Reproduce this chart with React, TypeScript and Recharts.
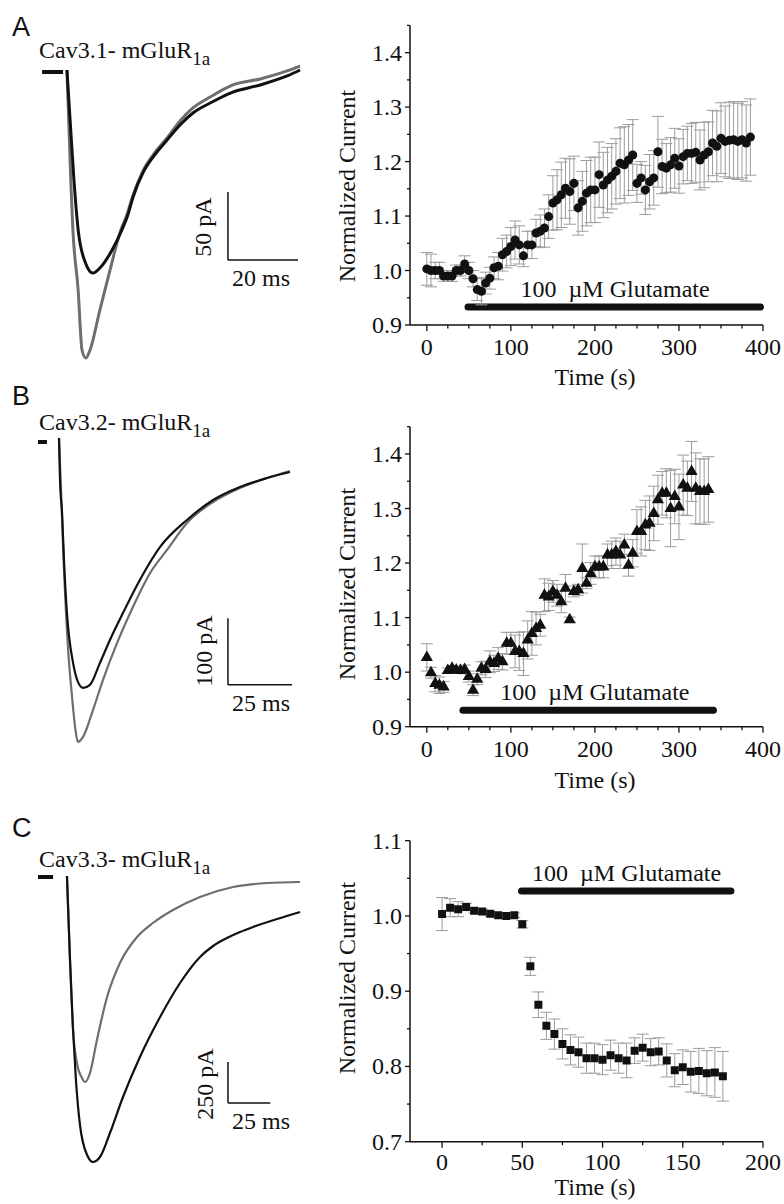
import React from 'react';
import {
  LineChart, Line, XAxis, YAxis, ReferenceLine,
  ScatterChart, Scatter, ErrorBar, ZAxis,
} from 'recharts';

const SERIF = '"Liberation Serif", "Times New Roman", serif';
const SANS = '"Liberation Sans", Arial, sans-serif';
const INK = '#111111';
const GREY = '#6e6e6e';
const ERR = '#9c9c9c';
const FS = 24;

// ---------- Current traces (time in ms, current in pA) ----------
const traceABlackT = [7.7, 8.6, 9.7, 10.9, 12.9, 15.1, 17.1, 20.6, 23.4, 24.9, 26.6, 29.4, 32.3, 36.3, 40.0, 43.7, 48.6, 55.1, 62.9, 70.6, 74.3];
const traceABlackI = [0, -36.8, -80.9, -117.6, -141.2, -149.3, -145.6, -132.4, -117.6, -108.1, -93.4, -75.7, -64.0, -51.5, -40.4, -31.6, -24.3, -16.2, -11.0, -4.4, 0];
const traceAGreyT = [7.7, 8.3, 8.9, 9.4, 10.9, 12.0, 13.1, 14.3, 17.1, 20.0, 22.9, 24.9, 26.6, 29.4, 32.3, 36.3, 40.0, 43.7, 48.6, 55.1, 62.9, 70.6, 74.3];
const traceAGreyI = [0, -44.1, -88.2, -117.6, -161.8, -205.9, -211.8, -205.9, -176.5, -147.1, -119.1, -105.9, -91.9, -74.3, -62.5, -50.0, -37.5, -27.9, -19.9, -11.0, -6.6, -0.7, 2.9];
const baseAT = [0.6, 6.6];
const baseAI = [-1.5, -1.5];

const traceBBlackT = [8.2, 8.6, 9.4, 10.2, 11.3, 13.7, 15.6, 17.6, 20.3, 24.2, 28.1, 33.2, 39.8, 47.7, 58.2, 68.4, 78.9, 89.5, 98.4];
const traceBBlackI = [3.0, -60.0, -109.4, -184.4, -259.4, -334.3, -362.8, -371.8, -367.3, -334.3, -299.9, -259.4, -209.9, -160.4, -119.9, -90.0, -70.5, -57.0, -48.0];
const traceBGreyT = [8.2, 9.0, 9.8, 11.7, 13.3, 14.8, 15.6, 17.6, 21.5, 25.4, 30.9, 37.1, 43.8, 50.4, 58.2, 68.4, 78.9, 89.5, 98.4];
const traceBGreyI = [3.0, -75.0, -160.4, -310.3, -385.3, -439.3, -452.8, -445.3, -404.8, -359.8, -304.3, -250.4, -199.4, -164.9, -124.4, -93.0, -72.0, -57.0, -46.5];
const baseBT = [0, 3.5];
const baseBI = [-3, -3];

const traceCGreyT = [17.1, 18.9, 20.7, 23.0, 26.0, 27.8, 30.7, 34.8, 40.8, 48.4, 58.5, 67.9, 79.7, 95.7, 115.2, 135.3, 154.8];
const traceCGreyI = [0, -512.2, -939.0, -1140.2, -1231.7, -1256.1, -1201.2, -1000.0, -737.8, -530.5, -372.0, -286.6, -207.3, -128.0, -67.1, -42.7, -36.6];
const traceCBlackT = [17.1, 18.9, 20.7, 22.4, 24.8, 29.0, 32.5, 36.6, 42.5, 50.2, 60.2, 72.1, 83.9, 95.7, 103.4, 111.6, 119.3, 127.0, 141.2, 154.8];
const traceCBlackI = [0, -512.2, -939.0, -1243.9, -1518.3, -1701.2, -1743.9, -1713.4, -1567.1, -1347.6, -1103.7, -859.8, -652.4, -493.9, -426.8, -378.0, -341.5, -311.0, -262.2, -219.5];
const baseCT = [0, 8.9];
const baseCI = [-6, -6];

// ---------- Normalized current time courses ----------
const timeA = [0, 5, 10, 15, 20, 25, 30, 35, 40, 45, 50, 55, 60, 65, 70, 75, 80, 85, 90, 95, 100, 105, 110, 115, 120, 125, 130, 135, 140, 145, 150, 155, 160, 165, 170, 175, 180, 185, 190, 195, 200, 205, 210, 215, 220, 225, 230, 235, 240, 245, 250, 255, 260, 265, 270, 275, 280, 285, 290, 295, 300, 305, 310, 315, 320, 325, 330, 335, 340, 345, 350, 355, 360, 365, 370, 375, 380, 385];
const currentA = [1.003, 1.0, 1.0, 1.0, 0.99, 0.99, 0.99, 1.0, 1.0, 1.012, 1.0, 0.985, 0.965, 0.962, 0.977, 0.986, 1.005, 1.008, 1.029, 1.035, 1.044, 1.056, 1.047, 1.027, 1.047, 1.047, 1.069, 1.072, 1.078, 1.099, 1.124, 1.13, 1.139, 1.151, 1.145, 1.16, 1.115, 1.127, 1.142, 1.148, 1.148, 1.176, 1.157, 1.166, 1.173, 1.182, 1.197, 1.194, 1.203, 1.212, 1.16, 1.17, 1.148, 1.163, 1.17, 1.218, 1.191, 1.188, 1.194, 1.206, 1.192, 1.209, 1.215, 1.215, 1.217, 1.203, 1.212, 1.218, 1.234, 1.228, 1.243, 1.237, 1.239, 1.24, 1.237, 1.24, 1.234, 1.245];
const semA = [0.03, 0.03, 0.015, 0.015, 0.01, 0.01, 0.01, 0.01, 0.01, 0.015, 0.015, 0.015, 0.02, 0.025, 0.02, 0.02, 0.02, 0.025, 0.03, 0.03, 0.035, 0.035, 0.035, 0.02, 0.025, 0.025, 0.025, 0.03, 0.035, 0.04, 0.05, 0.055, 0.06, 0.055, 0.06, 0.05, 0.05, 0.055, 0.06, 0.06, 0.06, 0.06, 0.06, 0.06, 0.06, 0.06, 0.065, 0.07, 0.065, 0.065, 0.035, 0.03, 0.045, 0.05, 0.05, 0.065, 0.05, 0.045, 0.05, 0.055, 0.05, 0.05, 0.05, 0.055, 0.055, 0.055, 0.06, 0.055, 0.06, 0.065, 0.065, 0.065, 0.07, 0.07, 0.07, 0.07, 0.07, 0.07];

const timeB = [0, 5, 10, 15, 20, 25, 30, 35, 40, 45, 50, 55, 60, 65, 70, 75, 80, 85, 90, 95, 100, 105, 110, 115, 120, 125, 130, 135, 140, 145, 150, 155, 160, 165, 170, 175, 180, 185, 190, 195, 200, 205, 210, 215, 220, 225, 230, 235, 240, 245, 250, 255, 260, 265, 270, 275, 280, 285, 290, 295, 300, 305, 310, 315, 320, 325, 330, 335];
const currentB = [1.027, 0.999, 0.979, 0.976, 0.973, 1.003, 1.007, 1.004, 1.003, 1.005, 0.992, 0.967, 0.987, 1.007, 1.005, 1.019, 1.016, 1.025, 1.019, 1.053, 1.053, 1.038, 1.038, 1.034, 1.059, 1.071, 1.08, 1.086, 1.141, 1.138, 1.148, 1.141, 1.129, 1.154, 1.096, 1.148, 1.151, 1.19, 1.163, 1.181, 1.193, 1.193, 1.193, 1.215, 1.215, 1.221, 1.215, 1.233, 1.196, 1.218, 1.258, 1.258, 1.27, 1.273, 1.291, 1.316, 1.328, 1.328, 1.3, 1.322, 1.303, 1.343, 1.337, 1.368, 1.337, 1.331, 1.331, 1.335];
const semB = [0.025, 0.01, 0.015, 0.015, 0.01, 0.005, 0.005, 0.005, 0.005, 0.008, 0.01, 0.01, 0.01, 0.012, 0.015, 0.02, 0.015, 0.02, 0.015, 0.02, 0.02, 0.03, 0.035, 0.04, 0.035, 0.04, 0.03, 0.02, 0.03, 0.025, 0.02, 0.02, 0.02, 0.025, 0.005, 0.01, 0.01, 0.045, 0.01, 0.02, 0.02, 0.02, 0.02, 0.02, 0.025, 0.025, 0.025, 0.02, 0.02, 0.025, 0.04, 0.045, 0.045, 0.05, 0.05, 0.045, 0.04, 0.045, 0.07, 0.05, 0.06, 0.055, 0.05, 0.055, 0.065, 0.06, 0.06, 0.06];

const timeC = [0, 5, 10, 15, 20, 25, 30, 35, 40, 45, 50, 55, 60, 65, 70, 75, 80, 85, 90, 95, 100, 105, 110, 115, 120, 125, 130, 135, 140, 145, 150, 155, 160, 165, 170, 175];
const currentC = [1.0025, 1.011, 1.009, 1.012, 1.007, 1.006, 1.003, 1.001, 1.0, 1.001, 0.989, 0.933, 0.882, 0.854, 0.843, 0.83, 0.822, 0.819, 0.811, 0.811, 0.809, 0.815, 0.811, 0.808, 0.821, 0.825, 0.819, 0.82, 0.808, 0.795, 0.799, 0.793, 0.794, 0.791, 0.792, 0.787];
const semC = [0.022, 0.012, 0.01, 0.005, 0.003, 0.003, 0.003, 0.003, 0.003, 0.003, 0.005, 0.012, 0.017, 0.018, 0.02, 0.02, 0.02, 0.02, 0.02, 0.02, 0.02, 0.02, 0.02, 0.023, 0.017, 0.018, 0.018, 0.018, 0.022, 0.022, 0.023, 0.027, 0.03, 0.03, 0.033, 0.033];

// Glutamate application periods (s), bar level and label centre
const glutA = [49, 397];
const glutB = [43, 341];
const glutC = [49.5, 180];
const glutLabelX = [224, 200, 115];
const glutLabel = '100\u00A0 \u00B5M Glutamate';

// Axis ticks
const xTicksAB = [0, 25, 50, 75, 100, 125, 150, 175, 200, 225, 250, 275, 300, 325, 350, 375, 400];
const xMajorAB = [0, 100, 200, 300, 400];
const yTicksAB = [0.9, 0.95, 1.0, 1.05, 1.1, 1.15, 1.2, 1.25, 1.3, 1.35, 1.4, 1.45];
const yMajorAB = [0.9, 1.0, 1.1, 1.2, 1.3, 1.4];
const xTicksC = [0, 25, 50, 75, 100, 125, 150, 175, 200];
const xMajorC = [0, 50, 100, 150, 200];
const yTicksC = [0.7, 0.75, 0.8, 0.85, 0.9, 0.95, 1.0, 1.05, 1.1];
const yMajorC = [0.7, 0.8, 0.9, 1.0, 1.1];

const zipTrace = (ts: number[], is: number[]) => ts.map((t, k) => ({ t, i: is[k] }));
const zipPoints = (ts: number[], ys: number[], es: number[]) => ts.map((x, k) => ({ x, y: ys[k], e: es[k] }));

const isIn = (list: number[], v: number) => list.some((m) => Math.abs(m - v) < 1e-9);

const makeXTick = (majors: number[], dy: number) => (props: any) => {
  const { x, y, payload } = props;
  const v = payload.value;
  const major = isIn(majors, v);
  return (
    <g>
      <line x1={x} x2={x} y1={y} y2={y + (major ? 6 : 3.5)} stroke={INK} strokeWidth={1.3} />
      {major && (
        <text x={x} y={y + dy} textAnchor="middle" fontFamily={SERIF} fontSize={FS} fill={INK}>
          {String(v)}
        </text>
      )}
    </g>
  );
};

const makeYTick = (majors: number[]) => (props: any) => {
  const { x, y, payload } = props;
  const v = payload.value;
  const major = isIn(majors, v);
  return (
    <g>
      <line x1={x} x2={x - (major ? 5 : 3)} y1={y} y2={y} stroke={INK} strokeWidth={1.3} />
      {major && (
        <text x={x - 8} y={y + 8} textAnchor="end" fontFamily={SERIF} fontSize={FS} fill={INK}>
          {v.toFixed(1)}
        </text>
      )}
    </g>
  );
};

const yTitle = (cy: number) => ({
  content: () => (
    <text x={347} y={cy} transform={`rotate(-90 347 ${cy})`} textAnchor="middle" dominantBaseline="central"
      fontFamily={SERIF} fontSize={FS} fill={INK}>Normalized Current</text>
  ),
});
const xTitle = (cy: number) => ({
  content: () => (
    <text x={595} y={cy} textAnchor="middle" fontFamily={SERIF} fontSize={FS} fill={INK}>Time (s)</text>
  ),
});

type TraceProps = {
  top: number; height: number; margin: any; xDomain: number[]; yDomain: number[];
  black: any[]; grey: any[]; base: any[]; barT: number; barI: number; dt: number; di: number; width: number;
};

function TracePanel(p: TraceProps) {
  return (
    <div style={{ position: 'absolute', left: 0, top: p.top, width: 320, height: p.height }}>
      <LineChart width={320} height={p.height} margin={p.margin}>
        <XAxis type="number" dataKey="t" domain={p.xDomain} hide allowDataOverflow />
        <YAxis type="number" dataKey="i" domain={p.yDomain} hide allowDataOverflow />
        <Line data={p.grey} dataKey="i" type="monotone" stroke={GREY} strokeWidth={p.width} dot={false} isAnimationActive={false} />
        <Line data={p.black} dataKey="i" type="monotone" stroke={INK} strokeWidth={p.width} dot={false} isAnimationActive={false} />
        <Line data={p.base} dataKey="i" type="linear" stroke={INK} strokeWidth={4} dot={false} isAnimationActive={false} />
        <ReferenceLine segment={[{ x: p.barT, y: p.barI + p.di }, { x: p.barT, y: p.barI }]} stroke={INK} strokeWidth={1.5} />
        <ReferenceLine segment={[{ x: p.barT, y: p.barI }, { x: p.barT + p.dt, y: p.barI }]} stroke={INK} strokeWidth={1.5} />
      </LineChart>
    </div>
  );
}

type ScatterProps = {
  top: number; height: number; margin: any; xAxisHeight: number;
  xDomain: number[]; xTicks: number[]; xMajor: number[]; xLabelDy: number;
  yDomain: number[]; yTicks: number[]; yMajor: number[];
  data: any[]; shape: any; size: number; glut: number[]; glutY: number; glutX: number;
  yTitleY: number; xTitleY: number;
};

function CoursePanel(p: ScatterProps) {
  return (
    <div style={{ position: 'absolute', left: 0, top: p.top, width: 784, height: p.height }}>
      <ScatterChart width={784} height={p.height} margin={p.margin}>
        <XAxis type="number" dataKey="x" domain={p.xDomain} ticks={p.xTicks} interval={0}
          allowDataOverflow height={p.xAxisHeight} tickSize={0} tickMargin={0} tickLine={false}
          axisLine={{ stroke: INK, strokeWidth: 1.5 }} tick={makeXTick(p.xMajor, p.xLabelDy)} label={xTitle(p.xTitleY)} />
        <YAxis type="number" dataKey="y" domain={p.yDomain} ticks={p.yTicks} interval={0}
          allowDataOverflow width={60} tickSize={0} tickMargin={0} tickLine={false}
          axisLine={{ stroke: INK, strokeWidth: 1.5 }} tick={makeYTick(p.yMajor)} label={yTitle(p.yTitleY)} />
        <ZAxis type="number" range={[p.size, p.size]} />
        <ReferenceLine
          segment={[{ x: p.glut[0], y: p.glutY }, { x: p.glut[1], y: p.glutY }]}
          stroke={INK} strokeWidth={7} strokeLinecap="round"
        />
        <ReferenceLine
          segment={[{ x: p.glutX - 1, y: p.glutY }, { x: p.glutX + 1, y: p.glutY }]}
          stroke="none"
          label={{ value: glutLabel, position: 'top', offset: 10, fontFamily: SERIF, fontSize: FS, fill: INK }}
        />
        <Scatter data={p.data} shape={p.shape} fill={INK} isAnimationActive={false}>
          <ErrorBar dataKey="e" direction="y" width={6} stroke={ERR} strokeWidth={1} />
        </Scatter>
      </ScatterChart>
    </div>
  );
}

function Overlay() {
  const txt = { fontFamily: SERIF, fontSize: FS, fill: INK };
  const title = (label: string, y: number) => (
    <text x={39} y={y} fontFamily={SERIF} fontSize={24} fill={INK}>
      {label}
      <tspan fontSize={19} dy={7}>1a</tspan>
    </text>
  );
  const vlabel = (s: string, cx: number, cy: number) => (
    <text x={cx} y={cy} transform={`rotate(-90 ${cx} ${cy})`} textAnchor="middle" dominantBaseline="central" {...txt}>{s}</text>
  );
  return (
    <svg width={784} height={1204} style={{ position: 'absolute', left: 0, top: 0, pointerEvents: 'none' }}>
      <text x={12} y={36} fontFamily={SANS} fontSize={27} fill={INK}>A</text>
      <text x={12} y={405} fontFamily={SANS} fontSize={27} fill={INK}>B</text>
      <text x={12} y={837} fontFamily={SANS} fontSize={27} fill={INK}>C</text>
      {title('Cav3.1- mGluR', 58)}
      {title('Cav3.2- mGluR', 430)}
      {title('Cav3.3- mGluR', 867)}
      {vlabel('50 pA', 203, 227)}
      <text x={261} y={286} textAnchor="middle" {...txt}>20 ms</text>
      {vlabel('100 pA', 204, 651)}
      <text x={261} y={711} textAnchor="middle" {...txt}>25 ms</text>
      {vlabel('250 pA', 205, 1084)}
      <text x={261} y={1129} textAnchor="middle" {...txt}>25 ms</text>
    </svg>
  );
}

export default function App() {
  return (
    <div style={{ position: 'absolute', left: 0, top: 0, width: 784, height: 1204, background: '#fff', overflow: 'hidden' }}>
      <TracePanel top={0} height={380} margin={{ top: 56.4, right: 14, bottom: 10.8, left: 40 }}
        xDomain={[0, 76]} yDomain={[-220, 10]} width={3}
        black={zipTrace(traceABlackT, traceABlackI)} grey={zipTrace(traceAGreyT, traceAGreyI)} base={zipTrace(baseAT, baseAI)}
        barT={53.7} barI={-139.7} dt={20} di={50} />
      <TracePanel top={380} height={390} margin={{ top: 46.7, right: 20.9, bottom: 10, left: 38 }}
        xDomain={[0, 102]} yDomain={[-480, 20]} width={2.2}
        black={zipTrace(traceBBlackT, traceBBlackI)} grey={zipTrace(traceBGreyT, traceBGreyI)} base={zipTrace(baseBT, baseBI)}
        barT={74.2} barI={-367.3} dt={25} di={100} />
      <TracePanel top={780} height={424} margin={{ top: 79.6, right: 11.1, bottom: 16.4, left: 38 }}
        xDomain={[0, 160]} yDomain={[-1900, 100]} width={2.2}
        black={zipTrace(traceCBlackT, traceCBlackI)} grey={zipTrace(traceCGreyT, traceCGreyI)} base={zipTrace(baseCT, baseCI)}
        barT={112.2} barI={-1384.1} dt={25} di={250} />

      <CoursePanel top={0} height={400} margin={{ top: 25.4, right: 21, bottom: 15, left: 350 }} xAxisHeight={60}
        xDomain={[-20, 400]} xTicks={xTicksAB} xMajor={xMajorAB} xLabelDy={30}
        yDomain={[0.9, 1.45]} yTicks={yTicksAB} yMajor={yMajorAB}
        data={zipPoints(timeA, currentA, semA)} shape="circle" size={150}
        glut={glutA} glutY={0.933} glutX={glutLabelX[0]} yTitleY={186} xTitleY={385} />
      <CoursePanel top={400} height={400} margin={{ top: 26.7, right: 21, bottom: 13.3, left: 350 }} xAxisHeight={60}
        xDomain={[-20, 400]} xTicks={xTicksAB} xMajor={xMajorAB} xLabelDy={30}
        yDomain={[0.9, 1.45]} yTicks={yTicksAB} yMajor={yMajorAB}
        data={zipPoints(timeB, currentB, semB)} shape="triangle" size={110}
        glut={glutB} glutY={0.930} glutX={glutLabelX[1]} yTitleY={184} xTitleY={388} />
      <CoursePanel top={800} height={404} margin={{ top: 40.7, right: 21, bottom: 7.3, left: 350 }} xAxisHeight={55}
        xDomain={[-20, 200]} xTicks={xTicksC} xMajor={xMajorC} xLabelDy={28}
        yDomain={[0.7, 1.1]} yTicks={yTicksC} yMajor={yMajorC}
        data={zipPoints(timeC, currentC, semC)} shape="square" size={140}
        glut={glutC} glutY={1.033} glutX={glutLabelX[2]} yTitleY={178} xTitleY={395} />

      <Overlay />
    </div>
  );
}
